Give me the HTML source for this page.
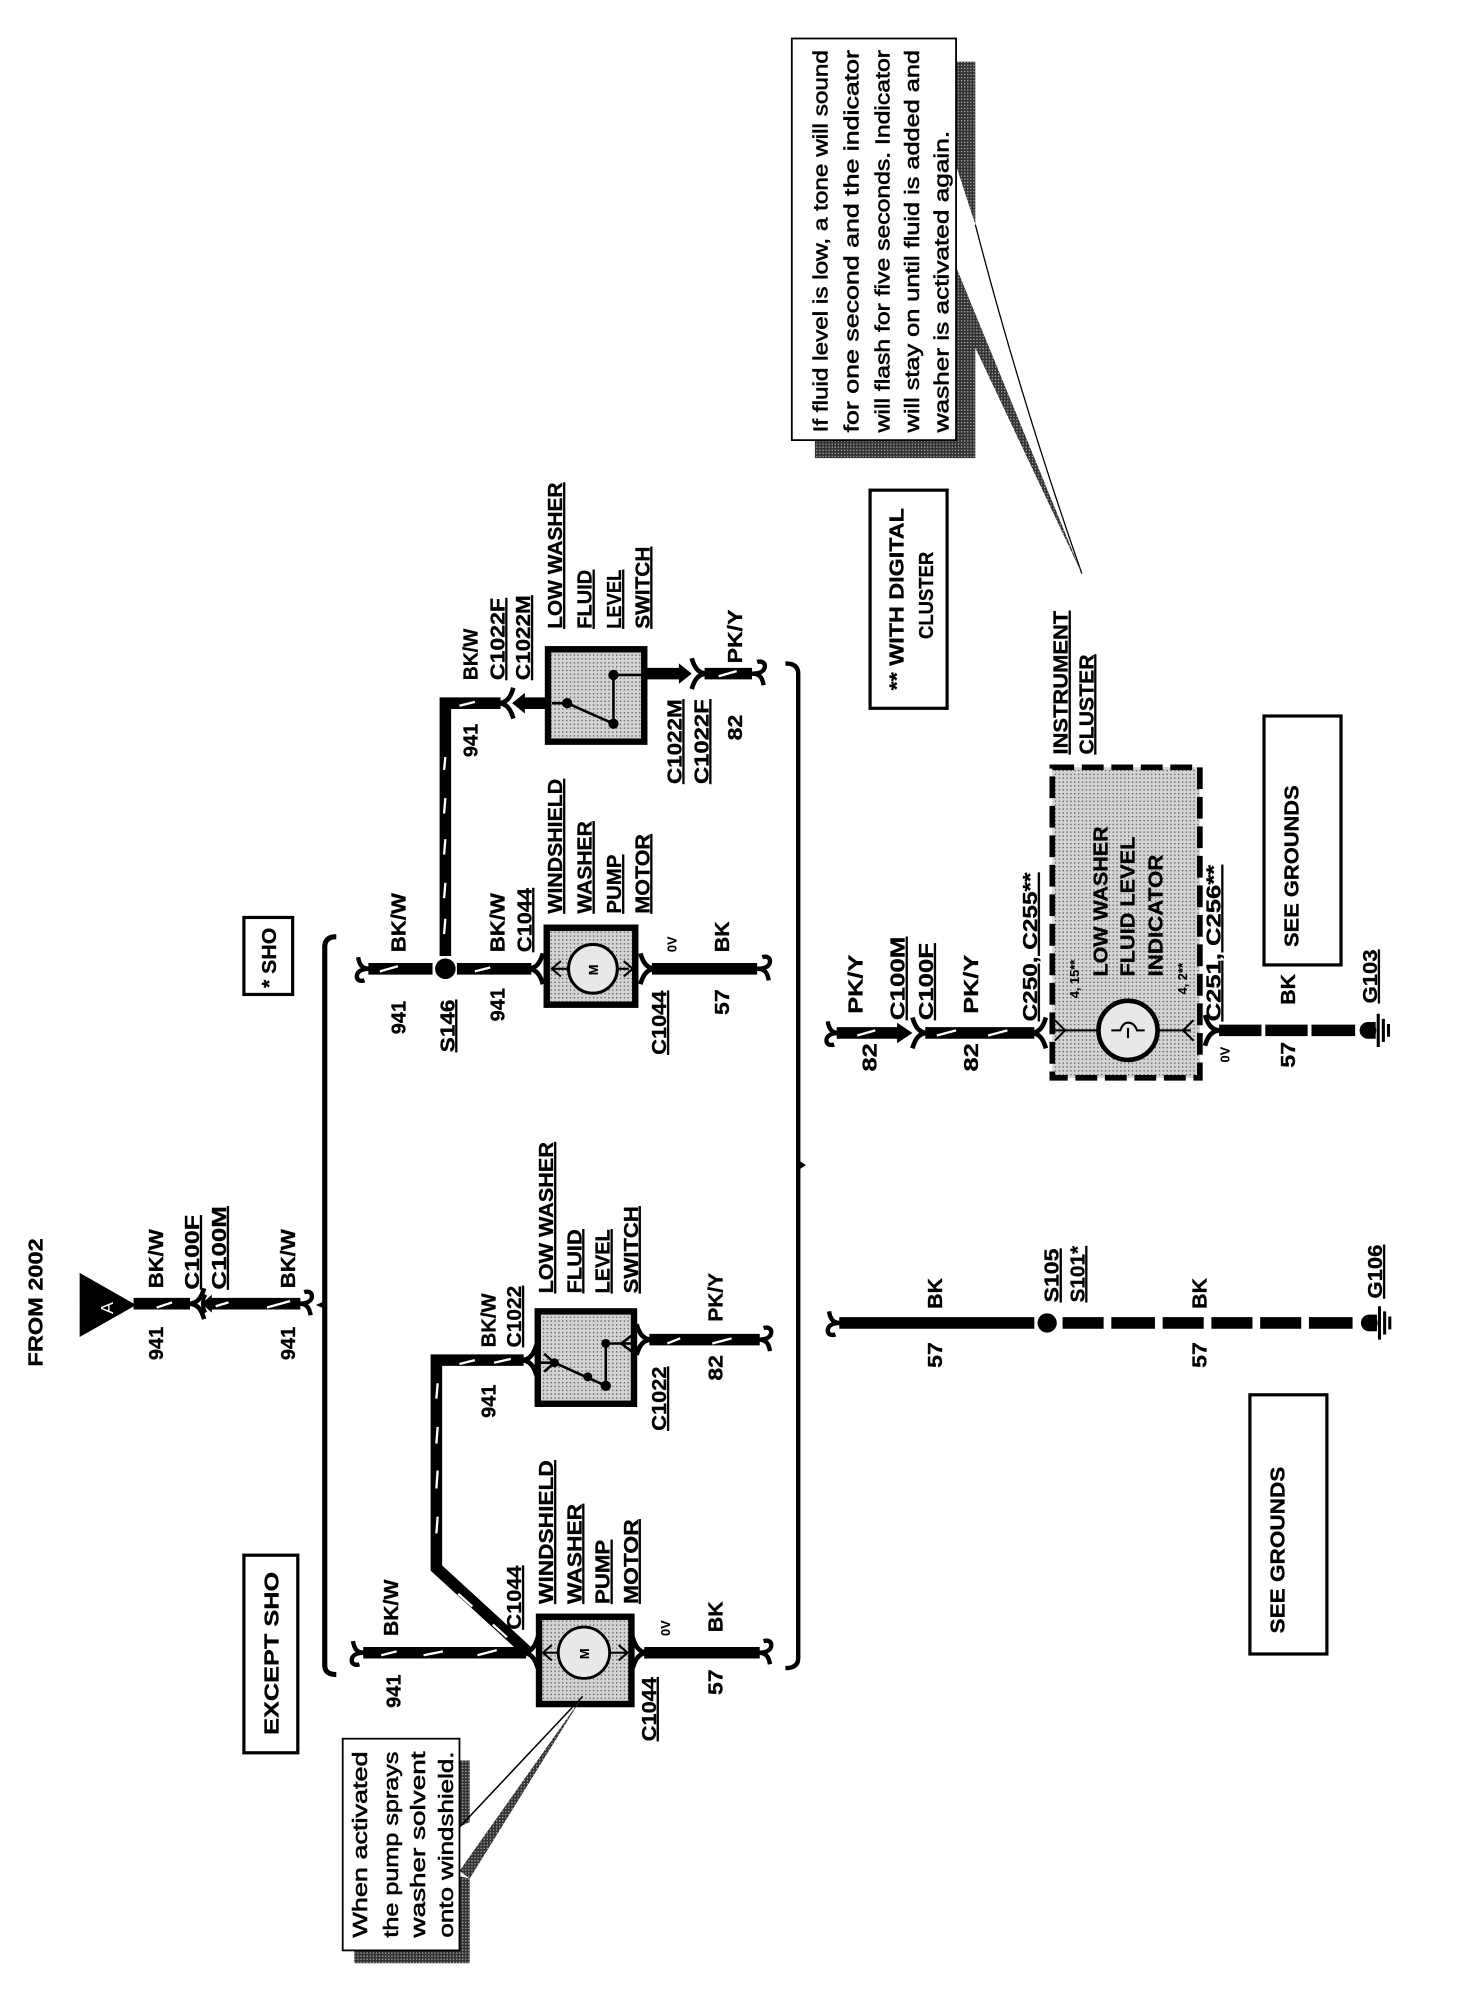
<!DOCTYPE html>
<html>
<head>
<meta charset="utf-8">
<title>Washer pump and low fluid indicator wiring diagram</title>
<style>
html,body{margin:0;padding:0;background:#fff;width:1472px;height:2012px;overflow:hidden}
svg{display:block}
text{font-family:"Liberation Sans",sans-serif;font-weight:bold;fill:#000;stroke:#000;stroke-width:.25;font-size:15.5px}
.u{text-decoration:underline}
.n{font-weight:normal;font-size:16px;stroke-width:.45}
.s{font-size:10px;stroke-width:.1}
.w{fill:none;stroke:#000;stroke-width:9}
.t{fill:none;stroke:#000;stroke-width:3}
.st{stroke:#fff;stroke-width:1.8;fill:none}
.bx{fill:#fff;stroke:#000;stroke-width:2.5}
.hv{fill:url(#dots);stroke:#000;stroke-width:5}
</style>
</head>
<body>
<svg width="1472" height="2012" viewBox="0 0 1147 1568" xmlns="http://www.w3.org/2000/svg">
<defs>
<pattern id="dots" width="3" height="3" patternUnits="userSpaceOnUse"><rect width="3" height="3" fill="#d4d4d4"/><rect width="1" height="1" fill="#555"/></pattern>
<pattern id="shade" width="2.4" height="2.4" patternUnits="userSpaceOnUse"><rect width="2.4" height="2.4" fill="#333"/><rect width="1" height="1" fill="#aaa"/></pattern>
<path id="hl" d="M1,0 C-5,0 -7,-3 -8,-9 M1,0 C-5,0 -9,2 -9,6 C-9,9 -6,10 -3,9" fill="none" stroke="#000" stroke-width="3.4"/>
<path id="hr" d="M-1,0 C5,0 7,3 8,9 M-1,0 C5,0 9,-2 9,-6 C9,-9 6,-10 3,-9" fill="none" stroke="#000" stroke-width="3.4"/>
<path id="fr" d="M-5,0 C2,0 5,-5 7,-12 M-5,0 C2,0 5,5 7,12" fill="none" stroke="#000" stroke-width="3.6"/>
<path id="fl" d="M5,0 C-2,0 -5,-5 -7,-12 M5,0 C-2,0 -5,5 -7,12" fill="none" stroke="#000" stroke-width="3.6"/>
<g id="gnd"><circle cx="0" cy="0" r="6.5" fill="#000"/><path d="M0,-6.5 H6 V6.5 H0 Z" fill="#000"/><path d="M8,-13 V13 M12,-9 V9 M16,-5 V5" stroke="#000" stroke-width="2.4" fill="none"/></g>
</defs>

<!-- left / top feed -->
<text transform="translate(33,1065) rotate(-90)" textLength="100" lengthAdjust="spacingAndGlyphs">FROM 2002</text>
<path d="M62,992 L62,1042 L106,1017 Z" fill="#000"/>
<text transform="translate(88,1024) rotate(-90)" style="fill:#fff;stroke:none;font-weight:normal;font-size:14px">A</text>
<path class="w" d="M104,1016 H148"/><use href="#fr" x="152" y="1016"/>
<path d="M157,1016 l8,-7 v14 Z" fill="#000"/><path d="M160,1009 q-4,7 0,14" class="t"/>
<path class="w" d="M163,1016 H234"/><use href="#hr" x="234" y="1016"/>
<line class="st" x1="122" y1="1019" x2="134" y2="1015"/><line class="st" x1="208" y1="1019" x2="226" y2="1014"/><line class="st" x1="168" y1="1018" x2="178" y2="1015"/>
<text transform="translate(127,1004) rotate(-90)" textLength="46" lengthAdjust="spacingAndGlyphs">BK/W</text>
<text transform="translate(127,1060) rotate(-90)" textLength="26" lengthAdjust="spacingAndGlyphs">941</text>
<text class="u" transform="translate(155,1005) rotate(-90)" textLength="58" lengthAdjust="spacingAndGlyphs">C100F</text>
<text class="u" transform="translate(176,1005) rotate(-90)" textLength="65" lengthAdjust="spacingAndGlyphs">C100M</text>
<text transform="translate(230,1004) rotate(-90)" textLength="46" lengthAdjust="spacingAndGlyphs">BK/W</text>
<text transform="translate(230,1060) rotate(-90)" textLength="26" lengthAdjust="spacingAndGlyphs">941</text>

<!-- brackets -->
<path d="M262,730 Q253,730 253,738 V1298 Q253,1305 262,1305" fill="none" stroke="#000" stroke-width="4"/>
<path d="M246,1017 l7,-3 v6 Z" fill="#000"/>
<path d="M612,517 Q622,517 622,525 V1292 Q622,1300 612,1300" fill="none" stroke="#000" stroke-width="3.4"/>
<path d="M622,904 l6,4 l-6,4 Z" fill="#000"/>

<!-- boxes -->
<rect class="bx" x="190" y="1212" width="42" height="154"/>
<text transform="translate(217,1352) rotate(-90)" textLength="127" lengthAdjust="spacingAndGlyphs">EXCEPT SHO</text>
<rect class="bx" x="190" y="715" width="38" height="60"/>
<text transform="translate(215,770) rotate(-90)" textLength="47" lengthAdjust="spacingAndGlyphs">* SHO</text>

<!-- EXCEPT SHO wire -->
<path class="w" d="M283,1288 H410"/><use href="#hl" x="283" y="1288"/>
<path class="w" stroke-linejoin="miter" d="M412,1288 L340,1222 V1060 H408"/>
<use href="#fr" x="412" y="1288"/><use href="#fr" x="411" y="1060"/>
<g class="st">
<line x1="297" y1="1290" x2="309" y2="1287"/><line x1="330" y1="1290" x2="345" y2="1287"/><line x1="372" y1="1290" x2="387" y2="1286"/>
<line x1="395" y1="1276" x2="384" y2="1266"/><line x1="368" y1="1252" x2="357" y2="1242"/>
<line x1="340" y1="1195" x2="341" y2="1182"/><line x1="340" y1="1160" x2="341" y2="1146"/><line x1="340" y1="1125" x2="341" y2="1112"/><line x1="340" y1="1090" x2="341" y2="1078"/>
<line x1="358" y1="1063" x2="370" y2="1060"/><line x1="385" y1="1062" x2="398" y2="1059"/>
</g>
<text transform="translate(310,1275) rotate(-90)" textLength="44" lengthAdjust="spacingAndGlyphs">BK/W</text>
<text transform="translate(312,1331) rotate(-90)" textLength="26" lengthAdjust="spacingAndGlyphs">941</text>
<text transform="translate(386,1050) rotate(-90)" textLength="42" lengthAdjust="spacingAndGlyphs">BK/W</text>
<text transform="translate(386,1105) rotate(-90)" textLength="26" lengthAdjust="spacingAndGlyphs">941</text>
<text class="u" transform="translate(406,1050) rotate(-90)" textLength="48" lengthAdjust="spacingAndGlyphs">C1022</text>
<text class="u" transform="translate(406,1270) rotate(-90)" textLength="50" lengthAdjust="spacingAndGlyphs">C1044</text>

<!-- except SHO labels -->
<text class="u" transform="translate(431,1250) rotate(-90)" textLength="112" lengthAdjust="spacingAndGlyphs">WINDSHIELD</text>
<text class="u" transform="translate(453,1250) rotate(-90)" textLength="78" lengthAdjust="spacingAndGlyphs">WASHER</text>
<text class="u" transform="translate(475,1250) rotate(-90)" textLength="50" lengthAdjust="spacingAndGlyphs">PUMP</text>
<text class="u" transform="translate(497,1250) rotate(-90)" textLength="66" lengthAdjust="spacingAndGlyphs">MOTOR</text>
<text class="u" transform="translate(431,1008) rotate(-90)" textLength="118" lengthAdjust="spacingAndGlyphs">LOW WASHER</text>
<text class="u" transform="translate(453,1008) rotate(-90)" textLength="50" lengthAdjust="spacingAndGlyphs">FLUID</text>
<text class="u" transform="translate(475,1008) rotate(-90)" textLength="50" lengthAdjust="spacingAndGlyphs">LEVEL</text>
<text class="u" transform="translate(497,1008) rotate(-90)" textLength="68" lengthAdjust="spacingAndGlyphs">SWITCH</text>

<!-- except SHO motor -->
<rect class="hv" x="420" y="1260" width="72" height="68"/>
<circle cx="455" cy="1288" r="20" fill="#e8e8e8" stroke="#000" stroke-width="2.2"/>
<path d="M424,1288 H435 M475,1288 H488 M430,1282 l-7,6 l7,6 M482,1282 l7,6 l-7,6" fill="none" stroke="#000" stroke-width="1.6"/>
<text class="s" transform="translate(459,1293) rotate(-90)">M</text>
<path class="w" d="M502,1288 H592"/><use href="#fl" x="500" y="1288"/><use href="#hr" x="592" y="1288"/>
<text class="s" transform="translate(522,1275) rotate(-90)">0V</text>
<text transform="translate(563,1272) rotate(-90)" textLength="24" lengthAdjust="spacingAndGlyphs">BK</text>
<text transform="translate(563,1321) rotate(-90)" textLength="20" lengthAdjust="spacingAndGlyphs">57</text>
<text class="u" transform="translate(511,1357) rotate(-90)" textLength="50" lengthAdjust="spacingAndGlyphs">C1044</text>

<!-- except SHO switch -->
<rect class="hv" x="419" y="1022" width="75" height="72"/>
<path d="M421,1062 H432 M432,1062 L472,1080 M472,1080 V1047 M472,1047 H492 M424,1055 l8,7 l-8,7 M492,1041 l-8,6 l8,6" fill="none" stroke="#000" stroke-width="2"/>
<circle cx="432" cy="1062" r="3.5"/><circle cx="472" cy="1080" r="4"/><circle cx="472" cy="1047" r="3.5"/><circle cx="458" cy="1073" r="3.5"/>
<path class="w" d="M506,1044 H592"/><use href="#fl" x="503" y="1044"/><use href="#hr" x="592" y="1044"/>
<line class="st" x1="520" y1="1047" x2="530" y2="1043"/><line class="st" x1="555" y1="1047" x2="570" y2="1043"/>
<text transform="translate(563,1030) rotate(-90)" textLength="38" lengthAdjust="spacingAndGlyphs">PK/Y</text>
<text transform="translate(563,1076) rotate(-90)" textLength="20" lengthAdjust="spacingAndGlyphs">82</text>
<text class="u" transform="translate(519,1115) rotate(-90)" textLength="50" lengthAdjust="spacingAndGlyphs">C1022</text>

<!-- note 1 -->
<path d="M357,1372 H366 V1420 L357,1424 Z M366,1464 V1530 H276 V1520 H357 V1462 Z" fill="url(#shade)"/>
<path d="M454,1322 L358,1424" fill="none" stroke="#000" stroke-width="1.2"/>
<path d="M454,1322 L358,1458 L366,1464 Z" fill="url(#shade)"/>
<rect x="267" y="1355" width="91" height="165" fill="#fff" stroke="#000" stroke-width="1.4"/>
<text class="n" transform="translate(286,1510) rotate(-90)" textLength="145" lengthAdjust="spacingAndGlyphs">When  activated</text>
<text class="n" transform="translate(310,1510) rotate(-90)" textLength="145" lengthAdjust="spacingAndGlyphs">the pump sprays</text>
<text class="n" transform="translate(331,1510) rotate(-90)" textLength="145" lengthAdjust="spacingAndGlyphs">washer  solvent</text>
<text class="n" transform="translate(353,1510) rotate(-90)" textLength="145" lengthAdjust="spacingAndGlyphs">onto windshield.</text>

<!-- SHO section -->
<circle cx="347" cy="755" r="8" fill="#000"/>
<path class="w" d="M287,755 H337"/><use href="#hl" x="287" y="755"/>
<path class="w" d="M356,755 H414"/><use href="#fr" x="416" y="755"/>
<path class="w" stroke-linejoin="miter" d="M347,745 V548 H390"/>
<g class="st">
<line x1="296" y1="757" x2="310" y2="753"/><line x1="370" y1="757" x2="382" y2="754"/>
<line x1="346" y1="728" x2="347" y2="716"/><line x1="346" y1="700" x2="347" y2="688"/><line x1="346" y1="666" x2="347" y2="654"/><line x1="346" y1="634" x2="347" y2="622"/><line x1="346" y1="600" x2="347" y2="590"/>
<line x1="358" y1="550" x2="370" y2="547"/>
</g>
<text transform="translate(316,742) rotate(-90)" textLength="46" lengthAdjust="spacingAndGlyphs">BK/W</text>
<text transform="translate(316,806) rotate(-90)" textLength="26" lengthAdjust="spacingAndGlyphs">941</text>
<text class="u" transform="translate(354,820) rotate(-90)" textLength="41" lengthAdjust="spacingAndGlyphs">S146</text>
<text transform="translate(393,742) rotate(-90)" textLength="46" lengthAdjust="spacingAndGlyphs">BK/W</text>
<text transform="translate(393,796) rotate(-90)" textLength="26" lengthAdjust="spacingAndGlyphs">941</text>
<text class="u" transform="translate(414,742) rotate(-90)" textLength="50" lengthAdjust="spacingAndGlyphs">C1044</text>
<text class="u" transform="translate(438,712) rotate(-90)" textLength="105" lengthAdjust="spacingAndGlyphs">WINDSHIELD</text>
<text class="u" transform="translate(461,712) rotate(-90)" textLength="72" lengthAdjust="spacingAndGlyphs">WASHER</text>
<text class="u" transform="translate(484,712) rotate(-90)" textLength="46" lengthAdjust="spacingAndGlyphs">PUMP</text>
<text class="u" transform="translate(506,712) rotate(-90)" textLength="62" lengthAdjust="spacingAndGlyphs">MOTOR</text>
<rect class="hv" x="426" y="723" width="69" height="60"/>
<circle cx="462" cy="755" r="19" fill="#e8e8e8" stroke="#000" stroke-width="2.4"/>
<path d="M431,755 H443 M481,755 H490 M437,749 l-7,6 l7,6 M486,749 l7,6 l-7,6" fill="none" stroke="#000" stroke-width="1.6"/>
<text class="s" transform="translate(466,760) rotate(-90)">M</text>
<path class="w" d="M508,755 H590"/><use href="#fl" x="506" y="755"/><use href="#hr" x="591" y="755"/>
<text class="s" transform="translate(527,742) rotate(-90)">0V</text>
<text transform="translate(568,742) rotate(-90)" textLength="24" lengthAdjust="spacingAndGlyphs">BK</text>
<text transform="translate(568,791) rotate(-90)" textLength="20" lengthAdjust="spacingAndGlyphs">57</text>
<text class="u" transform="translate(519,822) rotate(-90)" textLength="50" lengthAdjust="spacingAndGlyphs">C1044</text>

<!-- SHO switch -->
<use href="#fr" x="393" y="548"/>
<path d="M399,548 l10,-8 v16 Z" fill="#000"/>
<path class="w" d="M405,548 H428"/>
<rect class="hv" x="427" y="506" width="75" height="72"/>
<path d="M430,548 H442 L478,564 M478,564 V526 M478,526 H500" fill="none" stroke="#000" stroke-width="2"/>
<circle cx="442" cy="548" r="4"/><circle cx="478" cy="564" r="4"/><circle cx="478" cy="526" r="4"/>
<path class="w" d="M502,525 H530"/><path d="M539,525 l-10,-8 v16 Z" fill="#000"/>
<use href="#fl" x="546" y="525"/>
<path class="w" stroke-width="7" d="M549,525 H586"/><use href="#hr" x="587" y="525"/>
<line class="st" x1="560" y1="527" x2="574" y2="523"/>
<text transform="translate(372,530) rotate(-90)" textLength="40" lengthAdjust="spacingAndGlyphs">BK/W</text>
<text transform="translate(372,590) rotate(-90)" textLength="26" lengthAdjust="spacingAndGlyphs">941</text>
<text class="u" transform="translate(393,530) rotate(-90)" textLength="64" lengthAdjust="spacingAndGlyphs">C1022F</text>
<text class="u" transform="translate(413,530) rotate(-90)" textLength="66" lengthAdjust="spacingAndGlyphs">C1022M</text>
<text class="u" transform="translate(438,490) rotate(-90)" textLength="114" lengthAdjust="spacingAndGlyphs">LOW WASHER</text>
<text class="u" transform="translate(461,490) rotate(-90)" textLength="46" lengthAdjust="spacingAndGlyphs">FLUID</text>
<text class="u" transform="translate(484,490) rotate(-90)" textLength="46" lengthAdjust="spacingAndGlyphs">LEVEL</text>
<text class="u" transform="translate(506,490) rotate(-90)" textLength="64" lengthAdjust="spacingAndGlyphs">SWITCH</text>
<text transform="translate(578,517) rotate(-90)" textLength="42" lengthAdjust="spacingAndGlyphs">PK/Y</text>
<text transform="translate(578,577) rotate(-90)" textLength="20" lengthAdjust="spacingAndGlyphs">82</text>
<text class="u" transform="translate(531,611) rotate(-90)" textLength="66" lengthAdjust="spacingAndGlyphs">C1022M</text>
<text class="u" transform="translate(552,611) rotate(-90)" textLength="66" lengthAdjust="spacingAndGlyphs">C1022F</text>

<!-- note 2 -->
<path d="M745,48 H760 V175 L745,129 Z" fill="url(#shade)"/>
<path d="M760,175 Q795,310 843,447" fill="none" stroke="#000" stroke-width="1"/>
<path d="M745,208 L843,447 L760,271 V357 H635 V343 H745 Z" fill="url(#shade)"/>
<rect x="617" y="30" width="128" height="313" fill="#fff" stroke="#000" stroke-width="1.4"/>
<text class="n" transform="translate(645,337) rotate(-90)" textLength="298" lengthAdjust="spacingAndGlyphs">If fluid level is low, a tone will sound</text>
<text class="n" transform="translate(669,337) rotate(-90)" textLength="298" lengthAdjust="spacingAndGlyphs">for  one  second  and  the  indicator</text>
<text class="n" transform="translate(693,337) rotate(-90)" textLength="298" lengthAdjust="spacingAndGlyphs">will flash for five seconds.  Indicator</text>
<text class="n" transform="translate(716,337) rotate(-90)" textLength="298" lengthAdjust="spacingAndGlyphs">will stay on until fluid is added and</text>
<text class="n" transform="translate(739,337) rotate(-90)" textLength="235" lengthAdjust="spacingAndGlyphs">washer is activated again.</text>

<!-- with digital cluster -->
<rect class="bx" x="678" y="382" width="60" height="170"/>
<text transform="translate(704,538) rotate(-90)" textLength="142" lengthAdjust="spacingAndGlyphs">** WITH DIGITAL</text>
<text transform="translate(727,498) rotate(-90)" textLength="68" lengthAdjust="spacingAndGlyphs">CLUSTER</text>

<!-- cluster -->
<path class="w" d="M652,805 H702"/><use href="#hl" x="653" y="805"/>
<path d="M711,805 l-12,-8 v16 Z" fill="#000"/>
<use href="#fl" x="718" y="805"/>
<path class="w" d="M721,805 H806"/><use href="#fr" x="808" y="805"/>
<line class="st" x1="668" y1="807" x2="682" y2="803"/><line class="st" x1="730" y1="807" x2="745" y2="803"/><line class="st" x1="770" y1="807" x2="785" y2="803"/>
<text transform="translate(672,790) rotate(-90)" textLength="46" lengthAdjust="spacingAndGlyphs">PK/Y</text>
<text transform="translate(683,835) rotate(-90)" textLength="22" lengthAdjust="spacingAndGlyphs">82</text>
<text class="u" transform="translate(705,795) rotate(-90)" textLength="65" lengthAdjust="spacingAndGlyphs">C100M</text>
<text class="u" transform="translate(727,795) rotate(-90)" textLength="60" lengthAdjust="spacingAndGlyphs">C100F</text>
<text transform="translate(762,790) rotate(-90)" textLength="46" lengthAdjust="spacingAndGlyphs">PK/Y</text>
<text transform="translate(762,835) rotate(-90)" textLength="22" lengthAdjust="spacingAndGlyphs">82</text>
<text class="u" transform="translate(808,796) rotate(-90)" textLength="116" lengthAdjust="spacingAndGlyphs">C250, C255**</text>
<text class="u" transform="translate(832,588) rotate(-90)" textLength="112" lengthAdjust="spacingAndGlyphs">INSTRUMENT</text>
<text class="u" transform="translate(852,588) rotate(-90)" textLength="78" lengthAdjust="spacingAndGlyphs">CLUSTER</text>
<rect x="820" y="598" width="115" height="242" fill="url(#dots)" stroke="#000" stroke-width="4.4" stroke-dasharray="17 6"/>
<path d="M822,803 H928 M822,795 l8,8 l-8,8 M930,795 l-8,8 l8,8" fill="none" stroke="#000" stroke-width="1.6"/>
<circle cx="879" cy="803" r="23" fill="#e8e8e8" stroke="#000" stroke-width="3.6"/>
<path d="M866,803 H873 Q875,797 879,797 Q884,797 886,803 H892 M879,801 V809" fill="none" stroke="#000" stroke-width="1.6"/>
<text class="s" transform="translate(841,778) rotate(-90)">4, 15**</text>
<text transform="translate(863,761) rotate(-90)" textLength="117" lengthAdjust="spacingAndGlyphs">LOW WASHER</text>
<text transform="translate(884,761) rotate(-90)" textLength="109" lengthAdjust="spacingAndGlyphs">FLUID LEVEL</text>
<text transform="translate(906,761) rotate(-90)" textLength="95" lengthAdjust="spacingAndGlyphs">INDICATOR</text>
<text class="s" transform="translate(925,775) rotate(-90)">4, 2**</text>
<text class="u" transform="translate(951,796) rotate(-90)" textLength="122" lengthAdjust="spacingAndGlyphs">C251, C256**</text>
<use href="#fl" x="946" y="803"/>
<path class="w" stroke-width="10" stroke-dasharray="33 3 33 3 34 200" d="M950,803 H1056"/>
<text class="s" transform="translate(958,828) rotate(-90)">0V</text>
<text transform="translate(1009,783) rotate(-90)" textLength="24" lengthAdjust="spacingAndGlyphs">BK</text>
<text transform="translate(1009,832) rotate(-90)" textLength="20" lengthAdjust="spacingAndGlyphs">57</text>
<text class="u" transform="translate(1073,782) rotate(-90)" textLength="42" lengthAdjust="spacingAndGlyphs">G103</text>
<use href="#gnd" x="1066" y="803"/>
<rect class="bx" x="985" y="558" width="60" height="194"/>
<text transform="translate(1012,738) rotate(-90)" textLength="126" lengthAdjust="spacingAndGlyphs">SEE GROUNDS</text>

<!-- ground line -->
<path class="w" stroke-width="10" d="M654,1031 H806"/><use href="#hl" x="654" y="1031"/>
<circle cx="816" cy="1031" r="7.5" fill="#000"/>
<path class="w" stroke-width="10" stroke-dasharray="32 6 34 6 32 6 32 6 32 6 34 200" d="M828,1031 H1056"/>
<text transform="translate(734,1020) rotate(-90)" textLength="24" lengthAdjust="spacingAndGlyphs">BK</text>
<text transform="translate(734,1066) rotate(-90)" textLength="20" lengthAdjust="spacingAndGlyphs">57</text>
<text class="u" transform="translate(825,1015) rotate(-90)" textLength="42" lengthAdjust="spacingAndGlyphs">S105</text>
<text class="u" transform="translate(845,1015) rotate(-90)" textLength="44" lengthAdjust="spacingAndGlyphs">S101*</text>
<text transform="translate(940,1020) rotate(-90)" textLength="24" lengthAdjust="spacingAndGlyphs">BK</text>
<text transform="translate(940,1066) rotate(-90)" textLength="20" lengthAdjust="spacingAndGlyphs">57</text>
<text class="u" transform="translate(1077,1012) rotate(-90)" textLength="42" lengthAdjust="spacingAndGlyphs">G106</text>
<use href="#gnd" x="1067" y="1031"/>
<rect class="bx" x="974" y="1087" width="60" height="202"/>
<text transform="translate(1001,1273) rotate(-90)" textLength="130" lengthAdjust="spacingAndGlyphs">SEE GROUNDS</text>
</svg>
</body>
</html>
